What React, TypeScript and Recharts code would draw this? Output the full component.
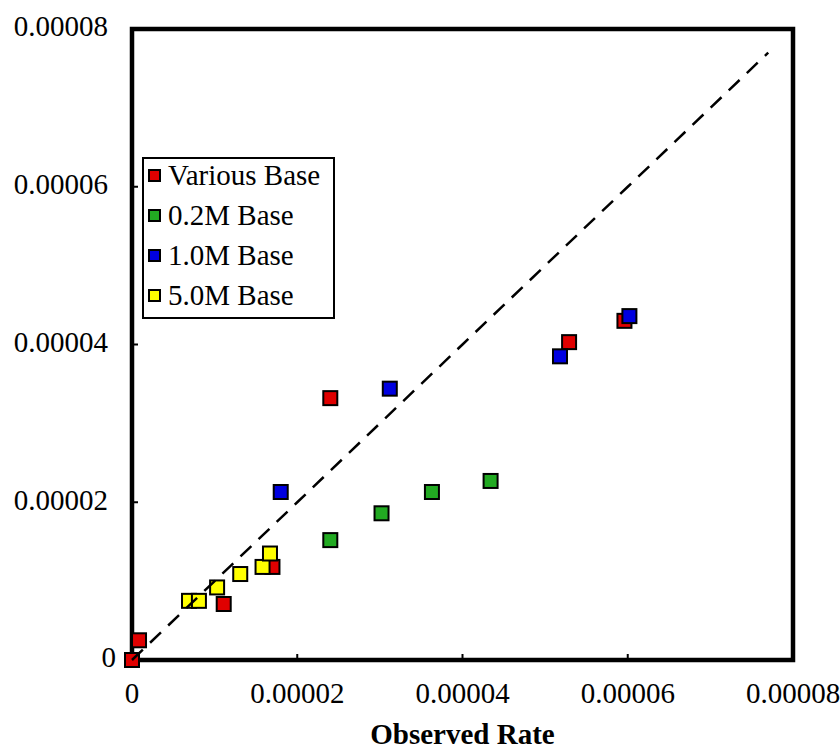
import React from "react";
import {
  ScatterChart,
  Scatter,
  XAxis,
  YAxis,
  ReferenceArea,
  Legend,
  Label,
} from "recharts";

const FONT = "'Liberation Serif', 'Times New Roman', serif";

// [observed, predicted]
const variousBase = [
  [0, 0],
  [0.00000085, 0.0000025],
  [0.0000111, 0.0000071],
  [0.000017, 0.0000118],
  [0.000024, 0.0000332],
  [0.0000529, 0.0000403],
  [0.0000596, 0.000043],
];
const base02M = [
  [0.000024, 0.0000152],
  [0.0000302, 0.0000186],
  [0.0000363, 0.0000213],
  [0.0000434, 0.0000227],
];
const base10M = [
  [0.000018, 0.0000213],
  [0.0000312, 0.0000344],
  [0.0000518, 0.0000385],
  [0.0000602, 0.0000436],
];
const base50M = [
  [0.0000069, 0.0000075],
  [0.0000081, 0.0000075],
  [0.0000103, 0.0000092],
  [0.0000131, 0.0000109],
  [0.0000158, 0.0000118],
  [0.0000167, 0.0000135],
];
const parityLine = [
  [0, 0],
  [0.00002, 0.00002],
  [0.00004, 0.00004],
  [0.00006, 0.00006],
  [0.000077, 0.000077],
];

const TICKS = [0, 0.00002, 0.00004, 0.00006, 0.00008];

const SERIES = [
  { name: "Various Base", color: "#e00000", data: variousBase },
  { name: "0.2M Base", color: "#22aa22", data: base02M },
  { name: "1.0M Base", color: "#0000e0", data: base10M },
  { name: "5.0M Base", color: "#ffff00", data: base50M },
];

const toPoints = (rows: number[][]) => rows.map(([x, y]) => ({ x, y }));

const fmt = (v: number) => (v === 0 ? "0" : v.toFixed(5));

const square = (fill: string) => (props: any) => (
  <rect
    x={props.cx - 7}
    y={props.cy - 7}
    width={14}
    height={14}
    fill={fill}
    stroke="#000"
    strokeWidth={2}
  />
);

// y tick labels: right aligned, the "0" sits a little closer to the axis
const YTick = (props: any) => {
  const { x, y, payload } = props;
  const v = payload.value;
  return (
    <text
      x={v === 0 ? x + 8 : x}
      y={y - 3}
      dy="0.355em"
      textAnchor="end"
      fill="#000"
      fontSize={29}
      fontFamily={FONT}
    >
      {fmt(v)}
    </text>
  );
};

function LegendBox() {
  return (
    <div
      style={{
        border: "2px solid #000",
        background: "#fff",
        fontFamily: FONT,
        fontSize: 29,
        color: "#000",
        padding: "0 6px 0 4px",
        boxSizing: "border-box",
        width: "100%",
        height: "100%",
        whiteSpace: "nowrap",
      }}
    >
      <div style={{ marginTop: -4 }}>
        {SERIES.map((s) => (
          <div key={s.name} style={{ display: "flex", alignItems: "center", height: 40 }}>
            <span
              style={{
                width: 9,
                height: 9,
                background: s.color,
                border: "2px solid #000",
                display: "inline-block",
                marginRight: 7,
              }}
            />
            <span style={{ lineHeight: "40px" }}>{s.name}</span>
          </div>
        ))}
      </div>
    </div>
  );
}

export default function App() {
  return (
    <div style={{ position: "absolute", left: 0, top: 0, width: 840, height: 751, background: "#fff" }}>
      <ScatterChart width={840} height={751} margin={{ top: 29, right: 47, bottom: 0, left: 0 }}>
        <XAxis
          type="number"
          dataKey="x"
          domain={[0, 0.00008]}
          ticks={TICKS}
          tickFormatter={fmt}
          axisLine={false}
          tickSize={-6}
          tickMargin={28}
          tickLine={{ stroke: "#000", strokeWidth: 2 }}
          tick={{ fill: "#000", fontSize: 29, fontFamily: FONT }}
          height={91}
          interval={0}
        >
          <Label
            value="Observed Rate"
            position="insideBottom"
            offset={7}
            style={{ fill: "#000", fontSize: 29, fontWeight: "bold", fontFamily: FONT }}
          />
        </XAxis>
        <YAxis
          type="number"
          dataKey="y"
          domain={[0, 0.00008]}
          ticks={TICKS}
          axisLine={false}
          tickSize={-6}
          tickMargin={30}
          tickLine={{ stroke: "#000", strokeWidth: 2 }}
          tick={<YTick />}
          width={132}
          interval={0}
        />
        <ReferenceArea
          x1={0}
          x2={0.00008}
          y1={0}
          y2={0.00008}
          fill="none"
          stroke="#000"
          strokeWidth={4.5}
          fillOpacity={0}
        />
        {SERIES.map((s) => (
          <Scatter
            key={s.name}
            name={s.name}
            data={toPoints(s.data)}
            fill={s.color}
            shape={square(s.color)}
            isAnimationActive={false}
          />
        ))}
        <Scatter
          name="parity"
          data={toPoints(parityLine)}
          line={{ stroke: "#000", strokeWidth: 2.5, strokeDasharray: "15 10" }}
          lineType="joint"
          shape={() => <g />}
          legendType="none"
          isAnimationActive={false}
        />
        <Legend
          layout="vertical"
          align="center"
          verticalAlign="middle"
          content={() => <LegendBox />}
          wrapperStyle={{ left: 142, top: 157, width: 193, height: 162 }}
        />
      </ScatterChart>
    </div>
  );
}
